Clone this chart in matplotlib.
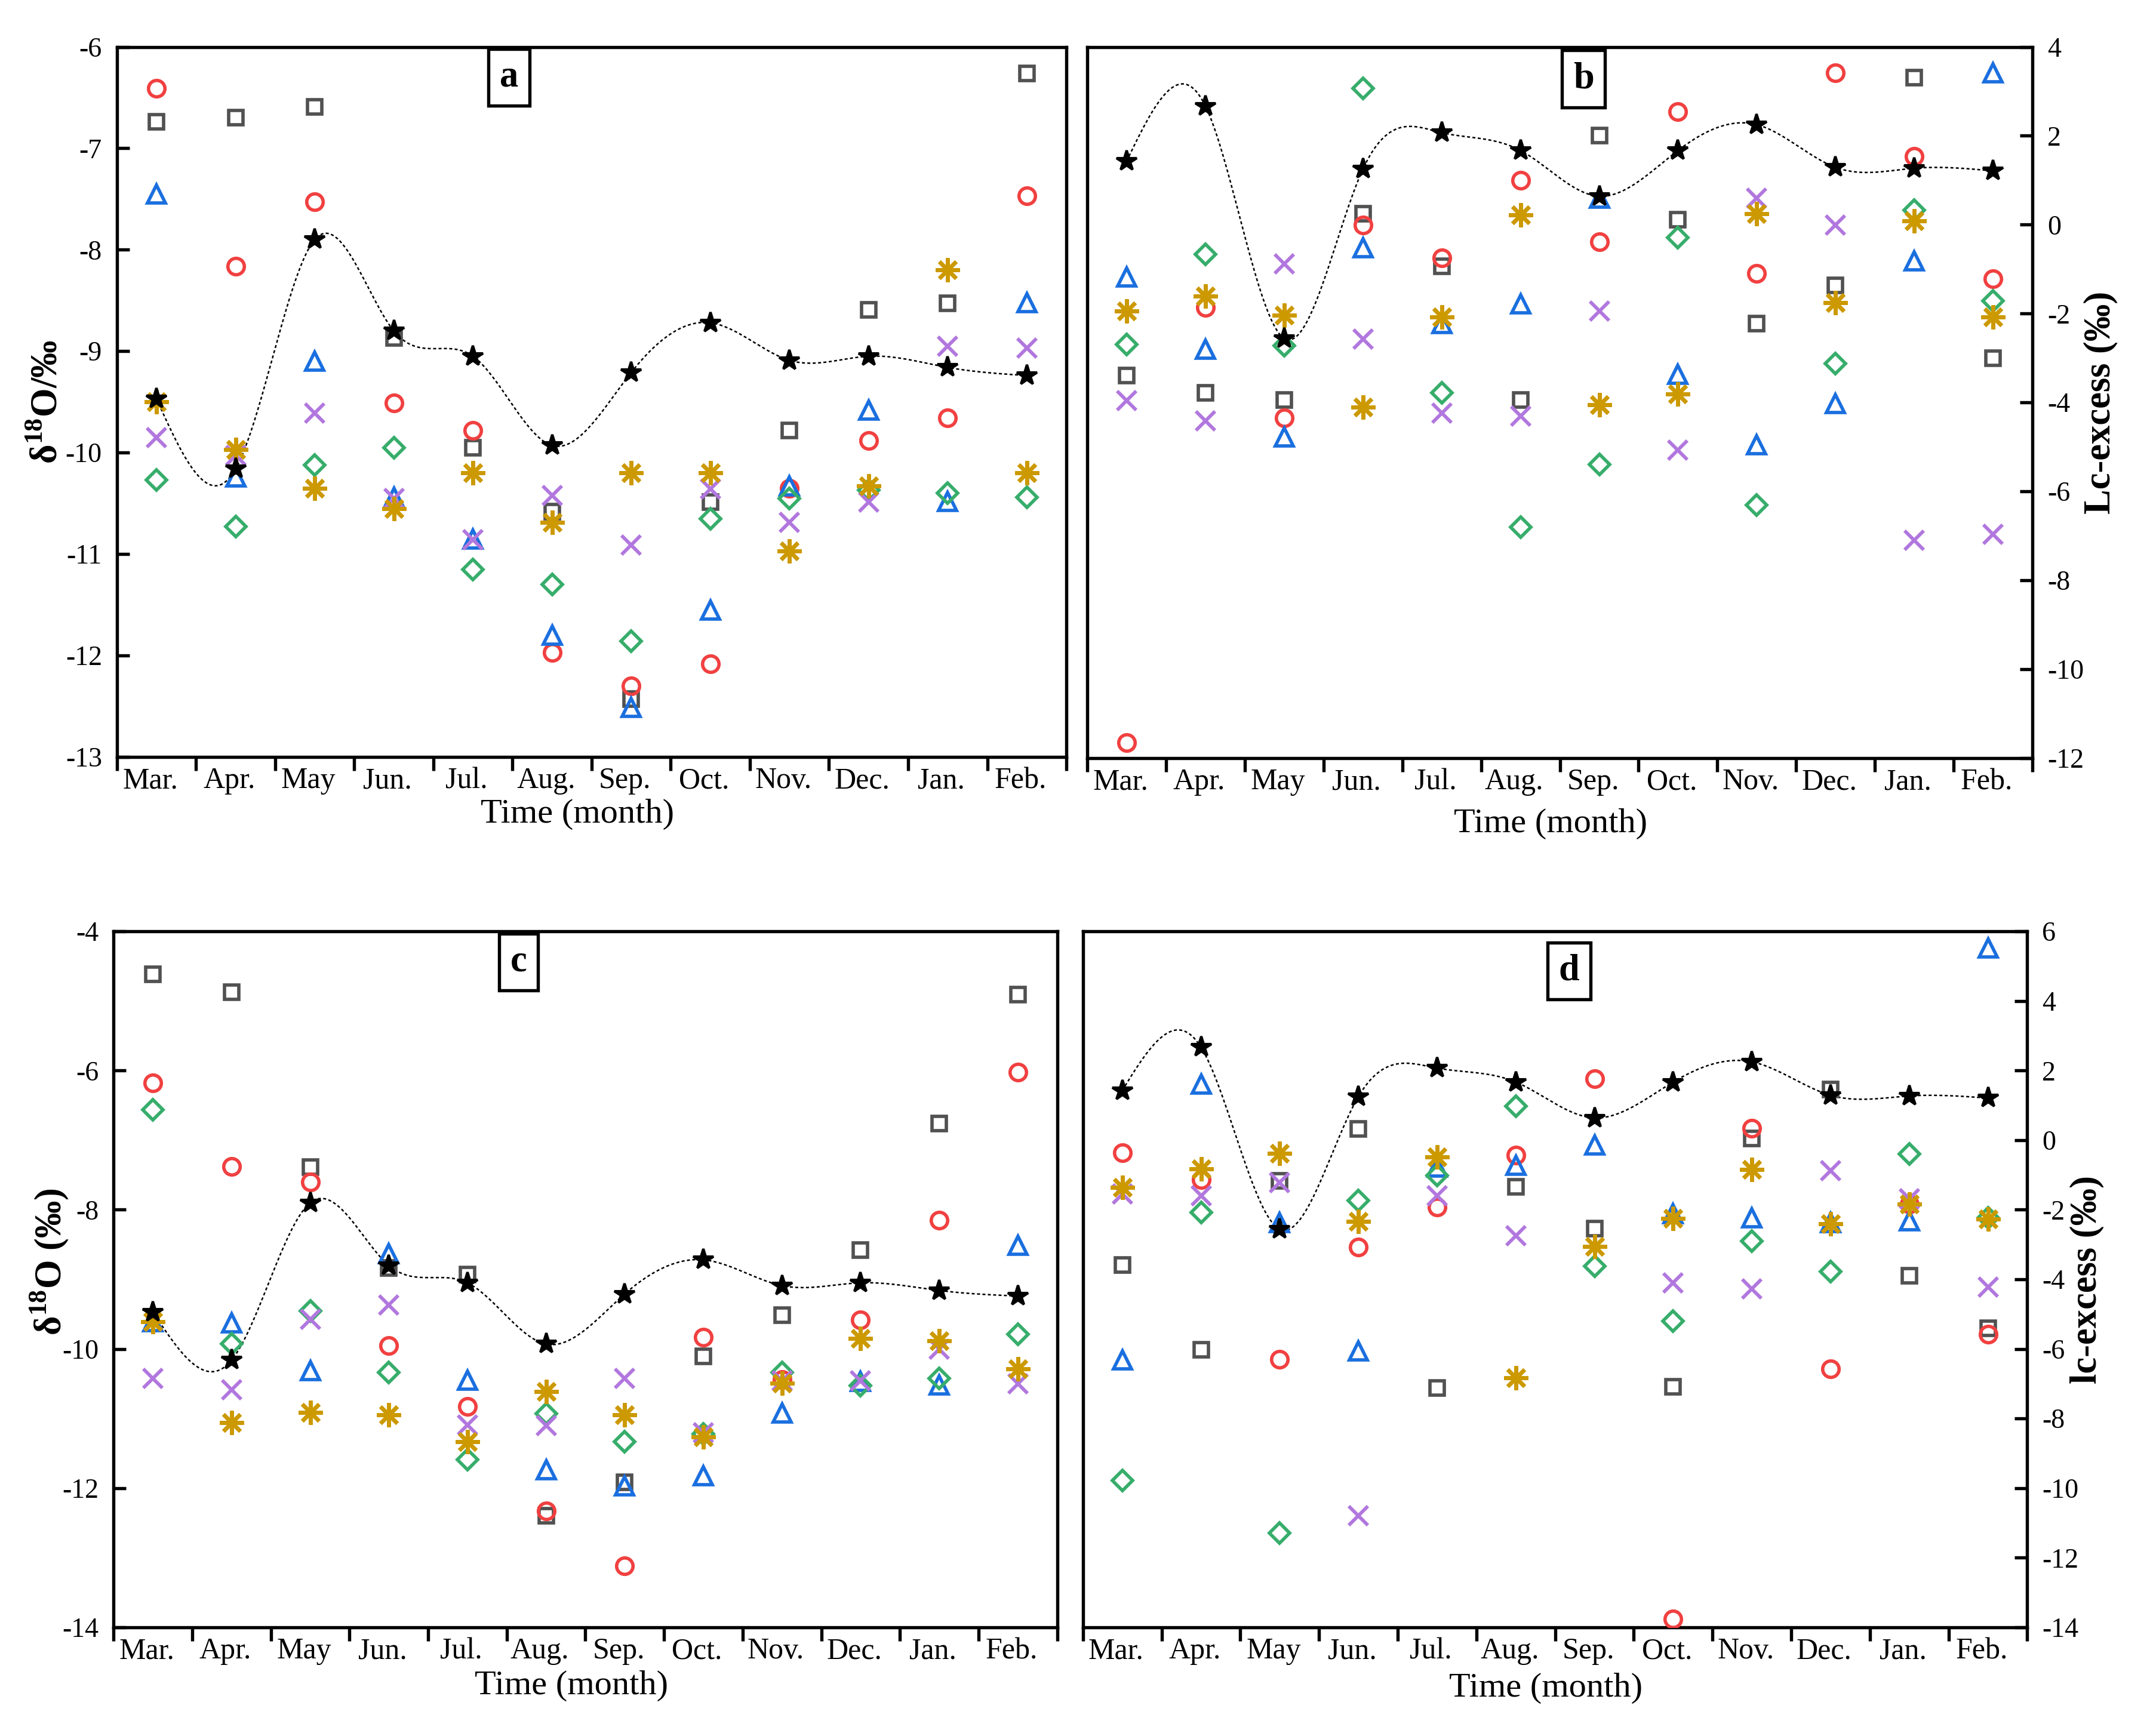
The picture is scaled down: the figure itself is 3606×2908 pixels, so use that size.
"""
Monthly d18O and lc-excess scatter, four panels (a-d).
Six sampling series plus a mean series joined by a cubic spline.
"""

import numpy as np
import matplotlib
matplotlib.use('Agg')
import matplotlib.pyplot as plt
import matplotlib.transforms as mtransforms

plt.rcParams['font.family'] = ['Liberation Serif', 'DejaVu Serif']
plt.rcParams['mathtext.fontset'] = 'custom'
plt.rcParams['mathtext.rm'] = 'Liberation Serif'
plt.rcParams['mathtext.bf'] = 'Liberation Serif:bold'
plt.rcParams['axes.unicode_minus'] = False

# ---------------------------------------------------------------------------
# Data
# ---------------------------------------------------------------------------
months = ['Mar.', 'Apr.', 'May', 'Jun.', 'Jul.', 'Aug.',
          'Sep.', 'Oct.', 'Nov.', 'Dec.', 'Jan.', 'Feb.']

# panel a : d18O
a_square = [-6.74, -6.70, -6.59, -8.87, -9.95, -10.58, -12.43, -10.49, -9.78, -8.59, -8.53, -6.26]
a_circle = [-6.41, -8.16, -7.53, -9.51, -9.78, -11.97, -12.30, -12.08, -10.35, -9.88, -9.66, -7.47]
a_triangle = [-7.45, -10.24, -9.10, -10.44, -10.85, -11.80, -12.51, -11.55, -10.33, -9.58, -10.48, -8.52]
a_diamond = [-10.27, -10.73, -10.12, -9.95, -11.15, -11.30, -11.86, -10.65, -10.45, -10.37, -10.40, -10.44]
a_cross = [-9.85, -10.03, -9.61, -10.45, -10.86, -10.42, -10.91, -10.36, -10.69, -10.49, -8.95, -8.97]
a_aster = [-9.50, -9.97, -10.35, -10.55, -10.20, -10.69, -10.20, -10.20, -10.97, -10.33, -8.20, -10.20]

# panel c : d18O
c_square = [-4.62, -4.87, -7.39, -8.84, -8.93, -12.40, -11.92, -10.11, -9.51, -8.58, -6.76, -4.91]
c_circle = [-6.18, -7.38, -7.60, -9.95, -10.83, -12.33, -13.12, -9.83, -10.44, -9.58, -8.15, -6.02]
c_triangle = [-9.61, -9.63, -10.31, -8.63, -10.45, -11.74, -11.97, -11.82, -10.92, -10.47, -10.52, -8.51]
c_diamond = [-6.56, -9.93, -9.45, -10.34, -11.59, -10.93, -11.33, -11.22, -10.34, -10.53, -10.42, -9.79]
c_cross = [-10.42, -10.59, -9.57, -9.37, -11.09, -11.10, -10.42, -11.20, -10.46, -10.46, -10.00, -10.50]
c_aster = [-9.61, -11.06, -10.91, -10.95, -11.33, -10.61, -10.95, -11.26, -10.49, -9.85, -9.88, -10.29]

# mean d18O (stars in a and c)
d18o_mean = [-9.47, -10.16, -7.90, -8.80, -9.05, -9.93, -9.21, -8.72, -9.09, -9.05, -9.16, -9.24]

# panel b : Lc-excess
b_square = [-3.39, -3.78, -3.94, 0.25, -0.94, -3.94, 2.01, 0.11, -2.23, -1.36, 3.31, -3.00]
b_circle = [-11.65, -1.86, -4.34, -0.01, -0.75, 1.00, -0.39, 2.54, -1.10, 3.41, 1.53, -1.22]
b_triangle = [-1.18, -2.80, -4.77, -0.52, -2.22, -1.78, 0.59, -3.36, -4.95, -4.02, -0.82, 3.42]
b_diamond = [-2.70, -0.67, -2.72, 3.07, -3.78, -6.81, -5.40, -0.29, -6.31, -3.12, 0.33, -1.72]
b_cross = [-3.96, -4.42, -0.88, -2.57, -4.24, -4.30, -1.94, -5.07, 0.59, -0.01, -7.10, -6.96]
b_aster = [-1.94, -1.61, -2.04, -4.11, -2.08, 0.22, -4.05, -3.81, 0.24, -1.76, 0.08, -2.08]

# panel d : lc-excess
d_square = [-3.59, -6.03, -1.17, 0.32, -7.12, -1.34, -2.54, -7.09, 0.05, 1.45, -3.90, -5.40]
d_circle = [-0.37, -1.14, -6.29, -3.08, -1.92, -0.43, 1.77, -13.76, 0.34, -6.57, -1.83, -5.58]
d_triangle = [-6.32, 1.61, -2.37, -6.06, -0.77, -0.72, -0.14, -2.11, -2.23, -2.37, -2.32, 5.52]
d_diamond = [-9.78, -2.08, -11.29, -1.73, -1.01, 0.97, -3.62, -5.20, -2.90, -3.77, -0.40, -2.24]
d_cross = [-1.54, -1.59, -1.22, -10.79, -1.60, -2.74, np.nan, -4.10, -4.27, -0.88, -1.68, -4.23]
d_aster = [-1.36, -0.83, -0.38, -2.34, -0.48, -6.83, -3.06, -2.25, -0.84, -2.40, -1.84, -2.26]

# mean lc-excess (stars in b and d)
lc_mean = [1.43, 2.67, -2.56, 1.25, 2.07, 1.67, 0.64, 1.67, 2.25, 1.29, 1.27, 1.21]

# ---------------------------------------------------------------------------
# Styles
# ---------------------------------------------------------------------------
SERIES_STYLE = [
    dict(marker='s', color='#515151', ms=5.8, mew=1.35),
    dict(marker='o', color='#F14040', ms=6.6, mew=1.35),
    dict(marker='^', color='#1A6FDF', ms=7.2, mew=1.35),
    dict(marker='D', color='#37AD6B', ms=5.8, mew=1.35),
    dict(marker='x', color='#B177DE', ms=7.6, mew=1.4),
    dict(marker=(8, 2, 0), color='#CC9900', ms=9.6, mew=1.6),
]

SPINE_LW = 1.3


def natural_spline(x, y, n_out=400):
    """Natural cubic spline through (x, y); used only as the connecting line."""
    x = np.asarray(x, float)
    y = np.asarray(y, float)
    n = len(x)
    h = np.diff(x)
    A = np.zeros((n, n))
    r = np.zeros(n)
    A[0, 0] = A[-1, -1] = 1.0
    for i in range(1, n - 1):
        A[i, i - 1] = h[i - 1]
        A[i, i] = 2 * (h[i - 1] + h[i])
        A[i, i + 1] = h[i]
        r[i] = 3 * ((y[i + 1] - y[i]) / h[i] - (y[i] - y[i - 1]) / h[i - 1])
    c = np.linalg.solve(A, r)
    b = (y[1:] - y[:-1]) / h - h * (2 * c[:-1] + c[1:]) / 3
    d = (c[1:] - c[:-1]) / (3 * h)
    xs = np.linspace(x[0], x[-1], n_out)
    idx = np.clip(np.searchsorted(x, xs) - 1, 0, n - 2)
    dx = xs - x[idx]
    ys = y[idx] + b[idx] * dx + c[idx] * dx ** 2 + d[idx] * dx ** 3
    return xs, ys


def draw_panel(ax, series, mean, ylim, yticks, letter, letter_xy,
               ylabel, ylabel_xy, xlabel_x, xlabel_pad, right=False):
    x = np.arange(len(months))

    for vals, st in zip(series, SERIES_STYLE):
        ax.plot(x, vals, linestyle='none', marker=st['marker'],
                markersize=st['ms'], markerfacecolor='none',
                markeredgecolor=st['color'], markeredgewidth=st['mew'],
                color=st['color'], zorder=3)

    xs, ys = natural_spline(x, mean)
    ax.plot(xs, ys, color='black', linewidth=0.6, linestyle=(0, (2.0, 1.6)),
            zorder=2)
    ax.plot(x, mean, linestyle='none', marker='*', markersize=8.5,
            color='black', zorder=4)

    ax.set_xlim(-0.5, len(months) - 0.5)
    ax.set_ylim(*ylim)

    # x axis: ticks at month boundaries, labels at month centres
    ax.set_xticks(np.arange(-0.5, len(months), 1.0))
    ax.set_xticklabels([])
    ax.set_xticks(x, minor=True)
    ax.set_xticklabels(months, minor=True, fontsize=12)
    ax.tick_params(axis='x', which='major', direction='out', length=5.5,
                   width=SPINE_LW, bottom=True, top=False)
    ax.tick_params(axis='x', which='minor', length=0, pad=4)
    shift = mtransforms.ScaledTranslation(-2.5 / 72, 0, ax.figure.dpi_scale_trans)
    for lab in ax.get_xticklabels(minor=True):
        lab.set_transform(lab.get_transform() + shift)
    ax.set_xlabel('Time (month)', fontsize=14, labelpad=xlabel_pad)
    ax.xaxis.label.set_x(xlabel_x)

    ax.set_yticks(yticks)
    ax.set_yticklabels([f'{v:g}' for v in yticks])
    if right:
        ax.yaxis.tick_right()
        ax.yaxis.set_label_position('right')
        ax.tick_params(axis='y', which='major', direction='in', length=5,
                       width=SPINE_LW, left=False, right=True,
                       labelleft=False, labelright=True, labelsize=11, pad=6)
    else:
        ax.tick_params(axis='y', which='major', direction='in', length=5,
                       width=SPINE_LW, left=True, right=False,
                       labelsize=11, pad=6)
    ax.set_ylabel(ylabel, fontsize=15, fontweight='bold')
    ax.yaxis.set_label_coords(*ylabel_xy)
    ax.tick_params(axis='y', which='minor', left=False, right=False)

    for sp in ax.spines.values():
        sp.set_linewidth(SPINE_LW)

    ax.text(letter_xy[0], letter_xy[1], letter, transform=ax.transAxes,
            fontsize=15, fontweight='bold', ha='center', va='center',
            bbox=dict(boxstyle='square,pad=0.3', facecolor='white',
                      edgecolor='black', linewidth=1.3), zorder=5)


fig = plt.figure(figsize=(3606 / 300, 2908 / 300), dpi=300)

ax_a = fig.add_axes([0.0543, 0.564, 0.441, 0.409])
ax_b = fig.add_axes([0.505, 0.5633, 0.439, 0.4097])
ax_c = fig.add_axes([0.0528, 0.0626, 0.4382, 0.4009])
ax_d = fig.add_axes([0.503, 0.0626, 0.4386, 0.4009])

draw_panel(ax_a, [a_square, a_circle, a_triangle, a_diamond, a_cross, a_aster],
           d18o_mean, (-13, -6), list(range(-13, -5)), 'a', (0.413, 0.957),
           'δ$^{\\mathbf{18}}$O/‰', (-0.054, 0.5), 0.485, 1.5)
draw_panel(ax_b, [b_square, b_circle, b_triangle, b_diamond, b_cross, b_aster],
           lc_mean, (-12, 4), list(range(-12, 5, 2)), 'b', (0.525, 0.955),
           'Lc-excess (‰)', (1.054, 0.5), 0.49, 5, right=True)
draw_panel(ax_c, [c_square, c_circle, c_triangle, c_diamond, c_cross, c_aster],
           d18o_mean, (-14, -4), list(range(-14, -3, 2)), 'c', (0.429, 0.956),
           'δ$^{\\mathbf{18}}$O (‰)', (-0.046, 0.525), 0.485, 2)
draw_panel(ax_d, [d_square, d_circle, d_triangle, d_diamond, d_cross, d_aster],
           lc_mean, (-14, 6), list(range(-14, 7, 2)), 'd', (0.515, 0.943),
           'lc-excess (‰)', (1.045, 0.5), 0.49, 3, right=True)

fig.savefig('out.png', dpi=300, facecolor='white')
